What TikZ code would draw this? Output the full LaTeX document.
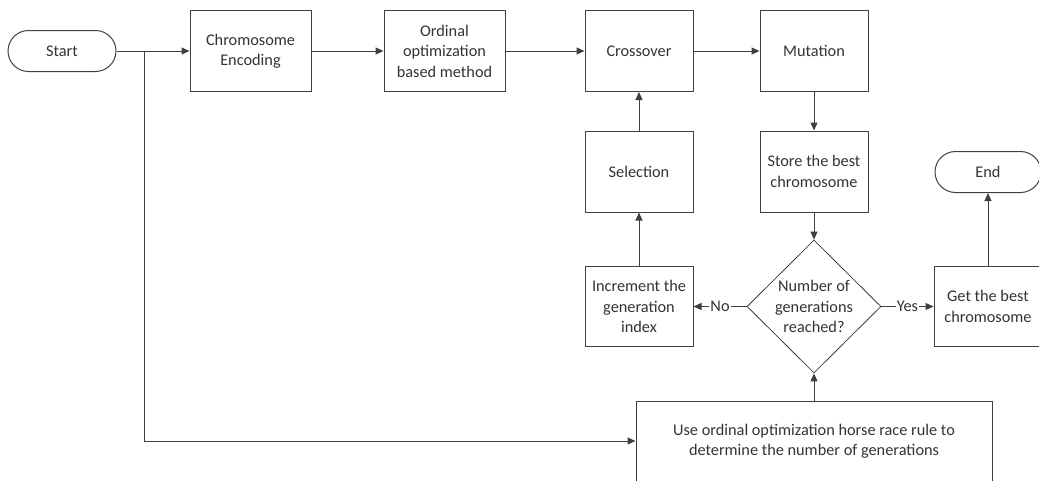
\documentclass[tikz,border=0pt]{standalone}
\usepackage{fontspec}
\setmainfont{Carlito}
\usetikzlibrary{shapes.geometric,arrows.meta}

\definecolor{linegray}{HTML}{404040}
\definecolor{textgray}{HTML}{333333}

\tikzset{
	box/.style={rectangle, draw=linegray, line width=1pt, align=center, text=textgray,
		minimum width=108pt, minimum height=81pt, inner sep=2pt,
		font=\fontsize{16.3}{20.5}\selectfont},
	term/.style={box, rounded corners=20.5pt, minimum height=41pt},
	decision/.style={diamond, draw=linegray, line width=0.8pt, align=center, text=textgray,
		minimum width=134pt, minimum height=133pt, inner sep=0pt,
		font=\fontsize{16.3}{20.5}\selectfont},
	flow/.style={draw=linegray, line width=1pt, -{Triangle[length=8pt,width=7pt]}},
	answer/.style={fill=white, text=textgray, inner sep=1pt, font=\fontsize{16.3}{20}\selectfont}
}

\begin{document}
\begin{tikzpicture}[x=1pt, y=-1pt]
		\useasboundingbox (0,0) rectangle (1039,480);
		
		\node[term] (start) at (62,51) {Start};
		\node[box, minimum width=121pt] (encode) at (250.5,51) {Chromosome\\Encoding};
		\node[box, minimum width=121pt] (ordinal) at (444.5,51) {Ordinal\\optimization\\based method};
		\node[box] (crossover) at (639,51) {Crossover};
		\node[box] (mutation) at (814,51) {Mutation};
		\node[box] (selection) at (639,171.5) {Selection};
		\node[box] (store) at (814,171.5) {Store the best\\chromosome};
		\node[term, minimum width=106pt] (finish) at (988,172) {End};
		\node[decision] (reached) at (814,306.5) {Number of\\generations\\reached?};
		\node[box, minimum height=80pt] (increment) at (639,306.5) {Increment the\\generation\\index};
		\node[box, minimum height=80pt] (best) at (988,306.5) {Get the best\\chromosome};
		\node[box, minimum width=356pt, minimum height=80pt] (horserace) at (814,441) {Use ordinal optimization horse race rule to\\determine the number of generations};
		
		\coordinate (split) at (144,51);
		
		\draw[flow] (start) -- (encode);
		\draw[flow] (encode) -- (ordinal);
		\draw[flow] (ordinal) -- (crossover);
		\draw[flow] (crossover) -- (mutation);
		\draw[flow] (mutation) -- (store);
		\draw[flow] (store) -- (reached);
		\draw[flow] (reached) -- node[answer] {No} (increment);
		\draw[flow] (reached) -- node[answer] {Yes} (best);
		\draw[flow] (best) -- (finish);
		\draw[flow] (increment) -- (selection);
		\draw[flow] (selection) -- (crossover);
		\draw[flow] (horserace) -- (reached);
		\draw[flow] (split) |- (horserace.west);
	\end{tikzpicture}
\end{document}
